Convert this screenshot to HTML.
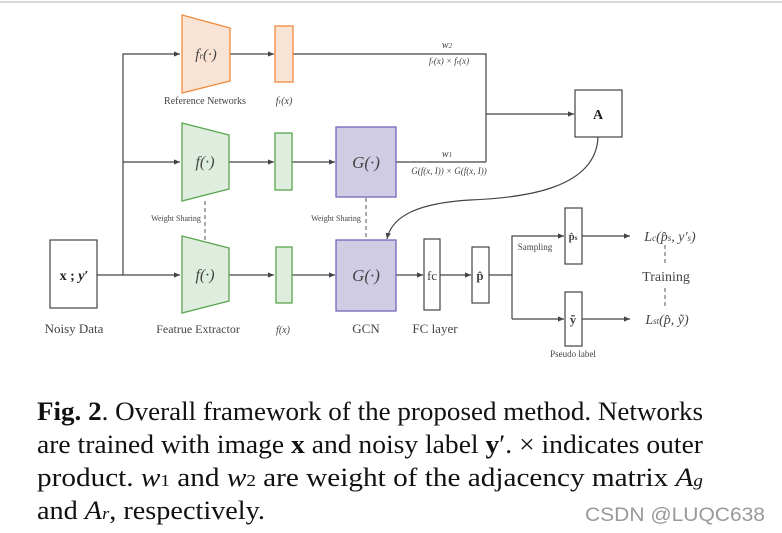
<!DOCTYPE html>
<html><head><meta charset="utf-8"><style>
body{margin:0;background:#fff;}
svg{display:block;}
.s{font-family:"Liberation Serif",serif;fill:#444;}
</style></head><body>
<svg width="782" height="533" viewBox="0 0 782 533" xmlns="http://www.w3.org/2000/svg">
<defs><marker id="ar" markerWidth="6" markerHeight="6" refX="5" refY="3" orient="auto"><path d="M0,0.8 L5,3 L0,5.2z" fill="#444"/></marker></defs>
<line x1="0" y1="2" x2="782" y2="2" stroke="#ccc" stroke-width="1.5"/>
<g stroke="#444" stroke-width="1.2" fill="none">
<rect x="50" y="240" width="47" height="68" fill="#fff"/>
<line x1="97" y1="275" x2="180" y2="275" marker-end="url(#ar)"/>
<polyline points="123,275 123,54 180,54" marker-end="url(#ar)"/>
<line x1="123" y1="162" x2="180" y2="162" marker-end="url(#ar)"/>
<line x1="230" y1="54" x2="274" y2="54" marker-end="url(#ar)"/>
<polyline points="293,54 486,54 486,162"/>
<line x1="486" y1="114" x2="574" y2="114" marker-end="url(#ar)"/>
<line x1="229" y1="162" x2="274" y2="162" marker-end="url(#ar)"/>
<line x1="292" y1="162" x2="335" y2="162" marker-end="url(#ar)"/>
<line x1="396" y1="162" x2="486" y2="162"/>
<line x1="229" y1="275" x2="274" y2="275" marker-end="url(#ar)"/>
<line x1="292" y1="275" x2="335" y2="275" marker-end="url(#ar)"/>
<line x1="396" y1="275" x2="423" y2="275" marker-end="url(#ar)"/>
<line x1="440" y1="275" x2="471" y2="275" marker-end="url(#ar)"/>
<polyline points="489,275 512,275"/>
<polyline points="512,319 512,236 564,236" marker-end="url(#ar)"/>
<line x1="512" y1="319" x2="564" y2="319" marker-end="url(#ar)"/>
<line x1="582" y1="236" x2="630" y2="236" marker-end="url(#ar)"/>
<line x1="582" y1="319" x2="630" y2="319" marker-end="url(#ar)"/>
<path d="M598,137 C596,190 520,198 470,200 C420,203 392,215 387,239" marker-end="url(#ar)"/>
</g>
<g stroke-width="1.3">
<polygon points="182,15 230,28 230,81 182,93" fill="#f9e3d4" stroke="#f08a3c"/>
<rect x="275" y="26" width="18" height="56" fill="#f9e3d4" stroke="#f08a3c"/>
<polygon points="182,123 229,135 229,189 182,201" fill="#deeddd" stroke="#5aa54f"/>
<rect x="275" y="133" width="17" height="57" fill="#deeddd" stroke="#5aa54f"/>
<polygon points="182,236 229,248 229,301 182,313" fill="#deeddd" stroke="#5aa54f"/>
<rect x="276" y="247" width="16" height="56" fill="#deeddd" stroke="#5aa54f"/>
<rect x="336" y="127" width="60" height="70" fill="#d0cce4" stroke="#7565b8"/>
<rect x="336" y="240" width="60" height="71" fill="#d0cce4" stroke="#7565b8"/>
</g>
<g stroke="#444" stroke-width="1.2" fill="#fff">
<rect x="575" y="90" width="47" height="47"/>
<rect x="424" y="239" width="16" height="71"/>
<rect x="472" y="247" width="17" height="56"/>
<rect x="565" y="208" width="17" height="56"/>
<rect x="565" y="292" width="17" height="54"/>
</g>
<g stroke="#555" stroke-width="1" stroke-dasharray="4,3">
<line x1="205" y1="201" x2="205" y2="242"/>
<line x1="366" y1="198" x2="366" y2="240"/>
<line x1="665" y1="245" x2="665" y2="264"/>
<line x1="665" y1="288" x2="665" y2="308"/>
</g>
<g class="s" text-anchor="middle">
<text x="74" y="280" font-size="14" font-weight="bold" fill="#222">x ; <tspan font-style="italic">y</tspan>′</text>
<text x="206" y="59" font-size="15" font-style="italic">f<tspan font-size="9">r</tspan>(·)</text>
<text x="205" y="167" font-size="16" font-style="italic">f(·)</text>
<text x="205" y="280" font-size="16" font-style="italic">f(·)</text>
<text x="366" y="168" font-size="17" font-style="italic">G(·)</text>
<text x="366" y="281" font-size="17" font-style="italic">G(·)</text>
<text x="598" y="119" font-size="14" font-weight="bold" fill="#222">A</text>
<text x="432" y="280" font-size="13">fc</text>
<text x="480" y="280" font-size="13" font-weight="bold">p̂</text>
<text x="573" y="240" font-size="11" font-weight="bold">p̂<tspan font-size="7">s</tspan></text>
<text x="573" y="324" font-size="13" font-weight="bold">ỹ</text>
<text x="205" y="104" font-size="10">Reference Networks</text>
<text x="284" y="104" font-size="10" font-style="italic">f<tspan font-size="7">r</tspan>(x)</text>
<text x="447" y="48" font-size="10" font-style="italic">w<tspan font-size="7">2</tspan></text>
<text x="449" y="64" font-size="9" font-style="italic">f<tspan font-size="6">r</tspan>(x) × f<tspan font-size="6">r</tspan>(x)</text>
<text x="447" y="157" font-size="10" font-style="italic">w<tspan font-size="7">1</tspan></text>
<text x="449" y="174" font-size="9" font-style="italic">G(f(x, I)) × G(f(x, I))</text>
<text x="176" y="221" font-size="8">Weight Sharing</text>
<text x="336" y="221" font-size="8">Weight Sharing</text>
<text x="535" y="250" font-size="9">Sampling</text>
<text x="573" y="357" font-size="9">Pseudo label</text>
<text x="74" y="333" font-size="13">Noisy Data</text>
<text x="198" y="333" font-size="12">Featrue Extractor</text>
<text x="283" y="333" font-size="10" font-style="italic">f(x)</text>
<text x="366" y="333" font-size="13">GCN</text>
<text x="435" y="333" font-size="13">FC layer</text>
<text x="666" y="281" font-size="14">Training</text>
<text x="670" y="241" font-size="14" font-style="italic">L<tspan font-size="9">c</tspan>(p̂<tspan font-size="9">s</tspan>, y′<tspan font-size="9">s</tspan>)</text>
<text x="667" y="324" font-size="14" font-style="italic">L<tspan font-size="9">st</tspan>(p̂, ỹ)</text>
</g>
<g font-family="Liberation Serif,serif" font-size="26" fill="#111">
<text x="37" y="420" textLength="666" lengthAdjust="spacingAndGlyphs"><tspan font-weight="bold">Fig. 2</tspan>. Overall framework of the proposed method. Networks</text>
<text x="37" y="453" textLength="666" lengthAdjust="spacingAndGlyphs">are trained with image <tspan font-weight="bold">x</tspan> and noisy label <tspan font-weight="bold">y</tspan>′. × indicates outer</text>
<text x="37" y="486" textLength="666" lengthAdjust="spacingAndGlyphs">product.  <tspan font-style="italic">w</tspan><tspan font-size="17">1</tspan> and <tspan font-style="italic">w</tspan><tspan font-size="17">2</tspan> are weight of the adjacency matrix <tspan font-style="italic">A</tspan><tspan font-size="17" font-style="italic">g</tspan></text>
<text x="37" y="519" textLength="228" lengthAdjust="spacingAndGlyphs">and <tspan font-style="italic">A</tspan><tspan font-size="17" font-style="italic">r</tspan>, respectively.</text>
</g>
<text x="585" y="521" textLength="180" lengthAdjust="spacingAndGlyphs" font-family="Liberation Sans,sans-serif" font-size="19" fill="#999">CSDN @LUQC638</text>
</svg>
</body></html>
